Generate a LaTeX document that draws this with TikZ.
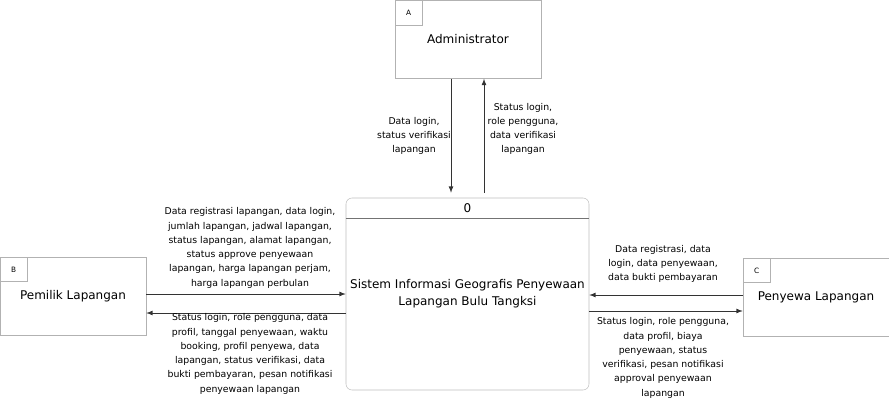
\documentclass[tikz,border=0pt]{standalone}
\usepackage{fontspec}
\setmainfont{DejaVu Sans}
\usetikzlibrary{positioning}

\begin{document}
\begin{tikzpicture}[x=0.75pt, y=-0.75pt,
every node/.style={inner sep=0pt},
entity/.style={rectangle, draw=black!30, minimum width=109.5pt, minimum height=58.5pt, font=\fontsize{9}{11}\selectfont},
tag/.style={rectangle, draw=black!30, anchor=north west, minimum width=20.5pt, minimum height=18.5pt, font=\fontsize{5.5}{6}\selectfont},
process/.style={rectangle, draw=black!25, rounded corners=4.5pt, minimum width=182.25pt, minimum height=144pt, align=center, font=\fontsize{9}{12.75}\selectfont},
flow/.style={-latex, draw=black!80, line width=0.65pt},
note/.style={align=center, font=\fontsize{7}{10.7}\selectfont}
]
\useasboundingbox (0,0) rectangle (889,403);

\node [entity] (admin) at (468,39.5) {Administrator};
\node [tag] (admintag) at (admin.north west) {A};

\node [entity] (pemilik) at (73,296) {Pemilik Lapangan};
\node [tag] (pemiliktag) at (pemilik.north west) {B};

\node [entity] (penyewa) at (816,297) {Penyewa Lapangan};
\node [tag] (penyewatag) at (penyewa.north west) {C};

\node [process] (proc) at (467.5,294) {Sistem Informasi Geografis Penyewaan\\Lapangan Bulu Tangksi};
\node (procid) at ([yshift=-7.5pt]proc.north) {\fontsize{9}{11}\selectfont 0};
\draw [black!55] ([yshift=-15.75pt]proc.north west) -- ([yshift=-15.75pt]proc.north east);

% admin
\coordinate (adminout) at ([xshift=-12.75pt]admin.south);
\coordinate (adminin) at ([xshift=12pt]admin.south);
\coordinate (procadminout) at ([yshift=3.75pt]adminout |- proc.north);
\coordinate (procadminin) at ([yshift=3.75pt]adminin |- proc.north);
\draw [flow] (adminout) -- (procadminout);
\draw [flow] (procadminin) -- (adminin);

% pemilik
\coordinate (pemilikout) at ([yshift=1.5pt]pemilik.east);
\coordinate (pemilikin) at ([yshift=-12.75pt]pemilik.east);
\draw [flow] (pemilikout) -- (pemilikout -| proc.west);
\draw [flow] (pemilikin -| proc.west) -- (pemilikin);

% penyewa
\coordinate (penyewaout) at ([yshift=1.5pt]penyewa.west);
\coordinate (penyewain) at ([yshift=-10.5pt]penyewa.west);
\draw [flow] (penyewaout) -- (penyewaout -| proc.east);
\draw [flow] (penyewain -| proc.east) -- (penyewain);

\node [note] (adminoutlbl) at (414,136) {Data login,\\status verifikasi\\lapangan};
\node [note] (admininlbl) at (523,129) {Status login,\\role pengguna,\\data verifikasi\\lapangan};

\node [note] (pemilikoutlbl) at (250,248) {Data registrasi lapangan, data login,\\jumlah lapangan, jadwal lapangan,\\status lapangan, alamat lapangan,\\status approve penyewaan\\lapangan, harga lapangan perjam,\\harga lapangan perbulan};
\node [note] (pemilikinlbl) at (250,354) {Status login, role pengguna, data\\profil, tanggal penyewaan, waktu\\booking, profil penyewa, data\\lapangan, status verifikasi, data\\bukti pembayaran, pesan notifikasi\\penyewaan lapangan};

\node [note] (penyewaoutlbl) at (663,264) {Data registrasi, data\\login, data penyewaan,\\data bukti pembayaran};
\node [note] (penyewainlbl) at (663,358) {Status login, role pengguna,\\data profil, biaya\\penyewaan, status\\verifikasi, pesan notifikasi\\approval penyewaan\\lapangan};

\end{tikzpicture}
\end{document}
